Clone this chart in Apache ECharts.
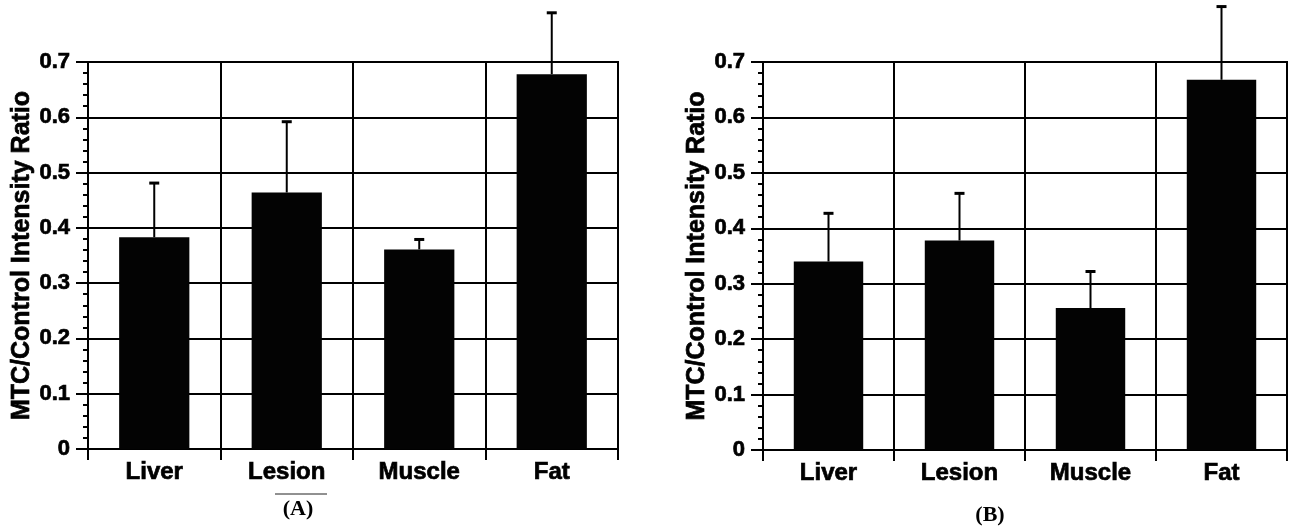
<!DOCTYPE html>
<html>
<head>
<meta charset="utf-8">
<script src="https://cdn.jsdelivr.net/npm/echarts@6/dist/echarts.min.js"></script>
<style>
  html, body { margin: 0; padding: 0; background: #fff; }
  #chart { width: 1296px; height: 526px; }
</style>
</head>
<body>
<div id="chart"></div>
<script>
// Tissue categories
const categories = ['Liver', 'Lesion', 'Muscle', 'Fat'];

// Panel (A): mean MTC/control intensity ratio and upper error (SD)
const meanA = [0.383, 0.464, 0.361, 0.678];
const sdA = [0.098, 0.128, 0.018, 0.111];

// Panel (B): mean MTC/control intensity ratio and upper error (SD)
const meanB = [0.340, 0.378, 0.256, 0.668];
const sdB = [0.087, 0.085, 0.066, 0.132];

// Value axis ticks
const yTicks = [0, 0.1, 0.2, 0.3, 0.4, 0.5, 0.6, 0.7];

const axisName = 'MTC/Control Intensity Ratio';
const panelLabels = ['(A)', '(B)'];

const SANS = '"Liberation Sans", Arial, Helvetica, sans-serif';
const SERIF = '"Liberation Serif", "Times New Roman", serif';
const INK = '#000';

// heavy text: bold face plus a thin outline in the same ink
const heavy = { textBorderColor: INK, textBorderWidth: 0.7 };

function makeXAxis(gridIndex) {
  return {
    type: 'category',
    gridIndex,
    data: categories,
    boundaryGap: true,
    axisLine: { show: true, lineStyle: { color: INK, width: 2 } },
    axisTick: { show: true, alignWithLabel: false, length: 11, lineStyle: { color: INK, width: 2 } },
    axisLabel: Object.assign({ color: INK, fontFamily: SANS, fontWeight: 'bold', fontSize: 24, margin: 11 }, heavy),
    splitLine: { show: true, lineStyle: { color: INK, width: 2 } }
  };
}

function makeYAxis(gridIndex) {
  return {
    type: 'value',
    gridIndex,
    min: yTicks[0],
    max: yTicks[yTicks.length - 1],
    interval: 0.1,
    name: axisName,
    nameLocation: 'middle',
    nameGap: 53,
    nameTextStyle: Object.assign({ color: INK, fontFamily: SANS, fontWeight: 'bold', fontSize: 25 }, heavy),
    axisLine: { show: true, lineStyle: { color: INK, width: 2 } },
    axisTick: { show: true, length: 12, lineStyle: { color: INK, width: 2 } },
    minorTick: { show: true, splitNumber: 5, length: 5, lineStyle: { color: INK, width: 2 } },
    axisLabel: Object.assign({
      color: INK, fontFamily: SANS, fontWeight: 'bold', fontSize: 22, margin: 18,
      formatter: v => (Math.abs(v) < 1e-9 ? '0' : String(+v.toFixed(1)))
    }, heavy),
    splitLine: { show: true, lineStyle: { color: INK, width: 2 } }
  };
}

function barSeries(idx, values) {
  return {
    type: 'bar',
    xAxisIndex: idx,
    yAxisIndex: idx,
    data: values,
    barWidth: '53%',
    itemStyle: { color: '#030303' },
    silent: true,
    z: 3
  };
}

// Upper-only error whiskers with a short cap
function errorSeries(idx, means, sds) {
  const data = means.map((m, i) => [i, m, +(m + sds[i]).toFixed(4)]);
  return {
    type: 'custom',
    xAxisIndex: idx,
    yAxisIndex: idx,
    data,
    clip: false,
    silent: true,
    z: 4,
    encode: { x: 0, y: [1, 2] },
    renderItem(params, api) {
      const i = api.value(0);
      const base = api.coord([i, api.value(1)]);
      const top = api.coord([i, api.value(2)]);
      const half = 5;
      const style = { stroke: INK, lineWidth: 2 };
      return {
        type: 'group',
        children: [
          { type: 'line', shape: { x1: base[0], y1: base[1], x2: top[0], y2: top[1] }, style },
          { type: 'line', shape: { x1: top[0] - half, y1: top[1], x2: top[0] + half, y2: top[1] }, style: { stroke: INK, lineWidth: 3 } }
        ]
      };
    }
  };
}

const chart = echarts.init(document.getElementById('chart'), null, { renderer: 'canvas' });

chart.setOption({
  animation: false,
  backgroundColor: '#fff',
  grid: [
    { left: 88, top: 62, width: 530, height: 387, show: true, borderColor: INK, borderWidth: 2 },
    { left: 763, top: 62, width: 524, height: 388, show: true, borderColor: INK, borderWidth: 2 }
  ],
  xAxis: [makeXAxis(0), makeXAxis(1)],
  yAxis: [makeYAxis(0), makeYAxis(1)],
  series: [
    barSeries(0, meanA),
    errorSeries(0, meanA, sdA),
    barSeries(1, meanB),
    errorSeries(1, meanB, sdB)
  ],
  graphic: [
    {
      type: 'line',
      shape: { x1: 275, y1: 494, x2: 327, y2: 494 },
      style: { stroke: '#222', lineWidth: 1 }
    },
    {
      type: 'text',
      x: 298, y: 509,
      style: { text: panelLabels[0], font: 'bold 22px ' + SERIF, fill: INK, align: 'center', verticalAlign: 'middle' }
    },
    {
      type: 'text',
      x: 990, y: 515,
      style: { text: panelLabels[1], font: 'bold 22px ' + SERIF, fill: INK, align: 'center', verticalAlign: 'middle' }
    }
  ]
});
</script>
</body>
</html>
